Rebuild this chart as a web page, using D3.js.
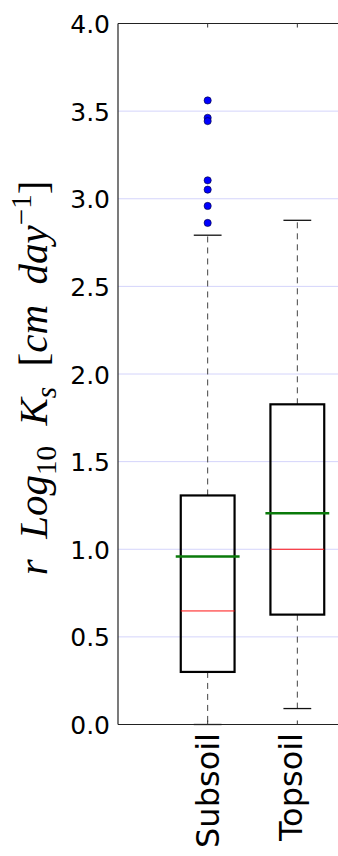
<!DOCTYPE html>
<html>
<head>
<meta charset="utf-8">
<script src="https://cdn.jsdelivr.net/npm/d3@7"></script>
<style>
html,body{margin:0;padding:0;background:#fff;}
svg{display:block;}
</style>
</head>
<body>
<div id="chart"></div>
<script>
// ---- data ----
const categories = ["Subsoil", "Topsoil"];
const q1 = [0.30, 0.627];
const medians = [0.648, 1.0];
const q3 = [1.307, 1.827];
const means = [0.959, 1.206];
const whiskerLow = [0.0, 0.091];
const whiskerHigh = [2.792, 2.877];
const outliersSubsoil = [3.561, 3.462, 3.443, 3.105, 3.052, 2.959, 2.862];
const outliersTopsoil = [];
const yTicks = [0.0, 0.5, 1.0, 1.5, 2.0, 2.5, 3.0, 3.5, 4.0];
const outliers = [outliersSubsoil, outliersTopsoil];

// ---- layout ----
const W = 338, H = 856;
const mLeft = 118, mTop = 23.5, mBottom = 724.5;
const svg = d3.select("#chart").append("svg").attr("width", W).attr("height", H);

const y = d3.scaleLinear().domain([0, 4]).range([mBottom, mTop]);
const x = d3.scaleLinear().domain([0, 3]).range([mLeft, 387]);
const pos = i => x(i + 1);

const boxHalf = x(0.3) - x(0);
const capHalf = x(0.155) - x(0);
const meanHalf = x(0.356) - x(0);

// grid
svg.append("g").selectAll("line").data(yTicks.filter(t => t > 0 && t < 4)).join("line")
  .attr("x1", mLeft).attr("x2", W).attr("y1", d => y(d)).attr("y2", d => y(d))
  .attr("stroke", "#d4d4fb").attr("stroke-width", 1);

// axis (left) using d3 axis for labels
const yAxis = d3.axisLeft(y).tickValues(yTicks).tickFormat(d3.format(".1f")).tickSize(0).tickPadding(8);
const gy = svg.append("g").attr("transform", `translate(${mLeft},0)`).call(yAxis);
gy.select(".domain").remove();
gy.selectAll("text").attr("font-family", "DejaVu Sans").attr("font-size", 25)
  .attr("fill", "#000").attr("dy", "0.36em").attr("x", -8);

// boxes
const g = svg.append("g");
categories.forEach((c, i) => {
  const cx = pos(i);
  g.append("line").attr("x1", cx).attr("x2", cx).attr("y1", y(q3[i])).attr("y2", y(whiskerHigh[i]))
    .attr("stroke", "#444").attr("stroke-width", 1).attr("stroke-dasharray", "6,5");
  g.append("line").attr("x1", cx).attr("x2", cx).attr("y1", y(q1[i])).attr("y2", y(whiskerLow[i]))
    .attr("stroke", "#444").attr("stroke-width", 1).attr("stroke-dasharray", "6,5");
  [whiskerLow[i], whiskerHigh[i]].forEach(v => {
    g.append("line").attr("x1", cx - capHalf).attr("x2", cx + capHalf).attr("y1", y(v)).attr("y2", y(v))
      .attr("stroke", "#111").attr("stroke-width", 1.3);
  });
  g.append("rect").attr("x", cx - boxHalf).attr("width", 2 * boxHalf)
    .attr("y", y(q3[i])).attr("height", y(q1[i]) - y(q3[i]))
    .attr("fill", "none").attr("stroke", "#000").attr("stroke-width", 2.2);
  g.append("line").attr("x1", cx - boxHalf).attr("x2", cx + boxHalf).attr("y1", y(medians[i])).attr("y2", y(medians[i]))
    .attr("stroke", "#ff1010").attr("stroke-width", 1);
  g.append("line").attr("x1", cx - meanHalf).attr("x2", cx + meanHalf).attr("y1", y(means[i])).attr("y2", y(means[i]))
    .attr("stroke", "#0a7a0a").attr("stroke-width", 2.5);
  g.selectAll(null).data(outliers[i]).join("circle")
    .attr("cx", cx).attr("cy", d => y(d)).attr("r", 3.6)
    .attr("fill", "#0000ff").attr("stroke", "#000033").attr("stroke-width", 0.6);
});

// spines
svg.append("line").attr("x1", mLeft).attr("x2", W).attr("y1", mTop).attr("y2", mTop).attr("stroke", "#222").attr("stroke-width", 1.2);
svg.append("line").attr("x1", mLeft).attr("x2", W).attr("y1", mBottom).attr("y2", mBottom).attr("stroke", "#222").attr("stroke-width", 1.2);
svg.append("line").attr("x1", mLeft).attr("x2", mLeft).attr("y1", mTop).attr("y2", mBottom).attr("stroke", "#222").attr("stroke-width", 1.2);

// x ticks (inward, top and bottom)
categories.forEach((c, i) => {
  const cx = pos(i);
  svg.append("line").attr("x1", cx).attr("x2", cx).attr("y1", mTop).attr("y2", mTop + 4).attr("stroke", "#333").attr("stroke-width", 1);
  svg.append("line").attr("x1", cx).attr("x2", cx).attr("y1", mBottom).attr("y2", mBottom - 4).attr("stroke", "#333").attr("stroke-width", 1);
});

// x labels rotated
const labelShift = [11, 4.5];
categories.forEach((c, i) => {
  svg.append("text")
    .attr("transform", `translate(${pos(i) + labelShift[i]},733) rotate(-90)`)
    .attr("text-anchor", "end")
    .attr("font-family", "DejaVu Sans").attr("font-size", 32).attr("fill", "#000")
    .text(c);
});

// y label (math style)
const ylab = svg.append("text")
  .attr("transform", "translate(47,378) rotate(-90)")
  .attr("text-anchor", "middle")
  .attr("font-family", "Liberation Serif, serif").attr("font-size", 41).attr("fill", "#000");
const parts = [
  {t: "r", s: "italic"}, {t: "\u2002", s: "normal"},
  {t: "Log", s: "italic"}, {t: "10", s: "normal", sub: true},
  {t: "\u2002", s: "normal"}, {t: "K", s: "italic"}, {t: "s", s: "italic", sub: true},
  {t: "\u2002", s: "normal"}, {t: "[", s: "normal"}, {t: "cm", s: "italic"},
  {t: "\u2002", s: "normal"}, {t: "day", s: "italic"}, {t: "\u22121", s: "normal", sup: true},
  {t: "]", s: "normal"}
];
let shift = 0;
parts.forEach(p => {
  const ts = ylab.append("tspan").attr("font-style", p.s).text(p.t);
  let target = p.sub ? 9 : (p.sup ? -16 : 0);
  if (target !== shift) { ts.attr("dy", target - shift); shift = target; }
  if (p.sub || p.sup) ts.attr("font-size", 29);
});
</script>
</body>
</html>
